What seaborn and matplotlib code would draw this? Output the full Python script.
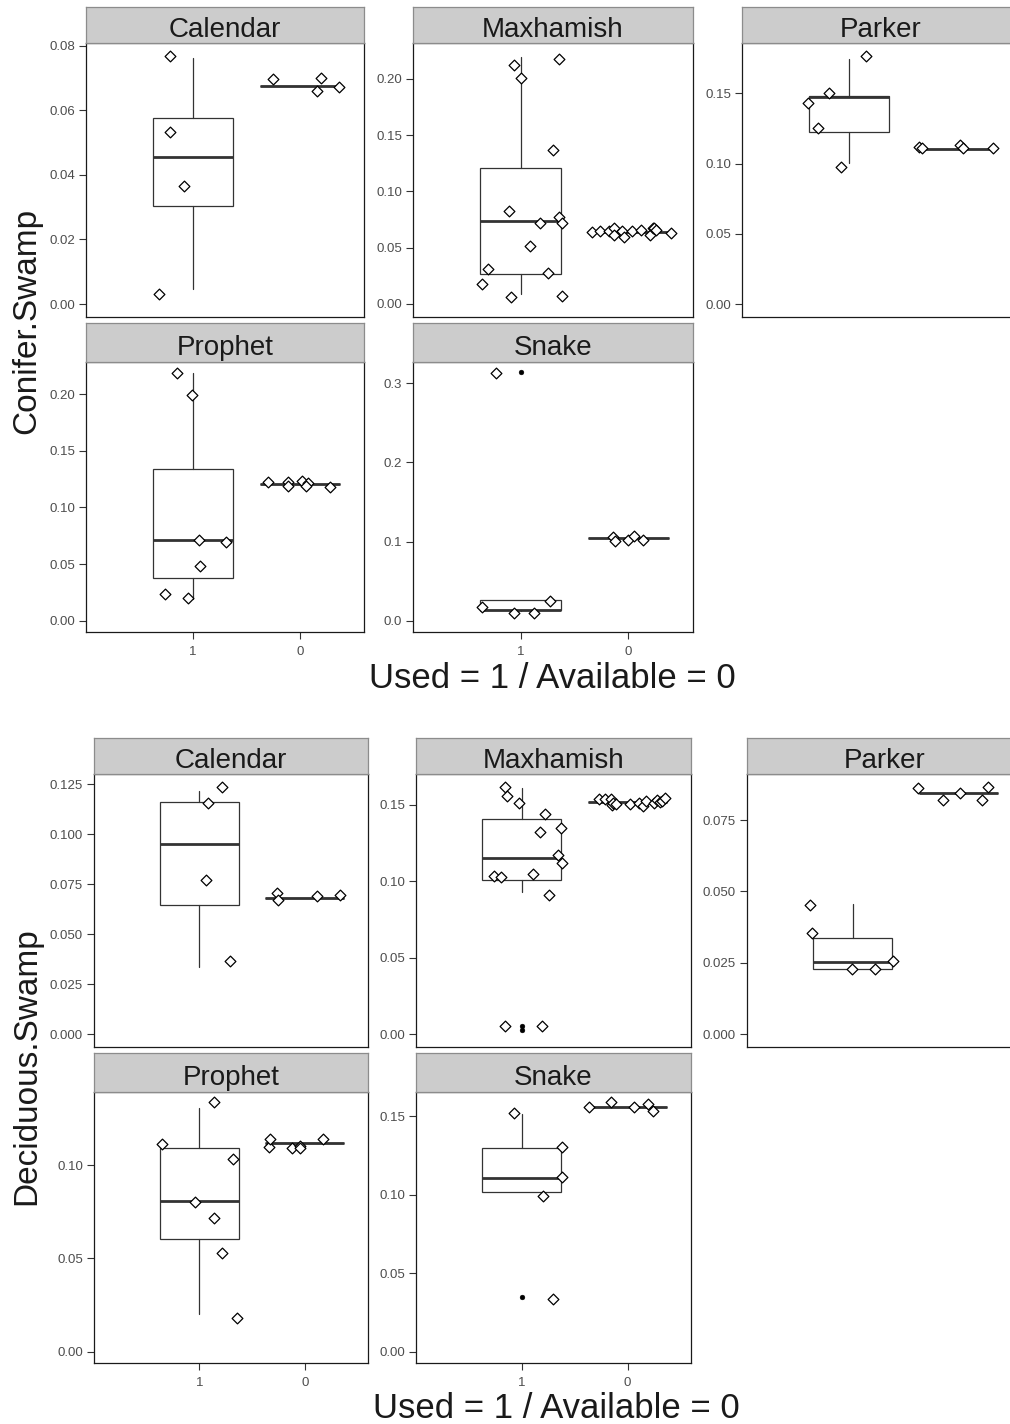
import matplotlib
matplotlib.use("Agg")
import matplotlib.pyplot as plt
from matplotlib.ticker import MultipleLocator, FormatStrFormatter
import pandas as pd
import seaborn as sns

# ---------------------------------------------------------------- data
sites = ["Calendar", "Maxhamish", "Parker", "Prophet", "Snake"]
group_labels = ["1", "0"]          # Used = 1, Available = 0
x_title = "Used = 1 / Available = 0"

# Conifer.Swamp, used locations (value and horizontal jitter)
conifer_used = {
    "Calendar": [0.0768, 0.0532, 0.0365, 0.0030],
    "Maxhamish": [0.2124, 0.2006, 0.2175, 0.1369, 0.0827, 0.0717, 0.0776,
                  0.0723, 0.0516, 0.0308, 0.0279, 0.0178, 0.0065, 0.0074],
    "Parker": [0.1434, 0.1256, 0.1505, 0.0974, 0.1766],
    "Prophet": [0.2183, 0.1992, 0.0712, 0.0697, 0.0483, 0.0236, 0.0198],
    "Snake": [0.3128, 0.0177, 0.0101, 0.0101, 0.0249],
}
conifer_used_jitter = {
    "Calendar": [-0.21, -0.21, -0.08, -0.32],
    "Maxhamish": [-0.06, 0.00, 0.36, 0.30, -0.11, 0.18, 0.36,
                  0.38, 0.09, -0.30, 0.25, -0.36, -0.09, 0.38],
    "Parker": [-0.385, -0.29, -0.19, -0.07, 0.16],
    "Prophet": [-0.15, -0.01, 0.06, 0.31, 0.07, -0.26, -0.05],
    "Snake": [-0.23, -0.36, -0.06, 0.12, 0.27],
}
# Conifer.Swamp, available locations
conifer_avail = {
    "Calendar": [0.0696, 0.0700, 0.0659, 0.0673],
    "Maxhamish": [0.0637, 0.0652, 0.0652, 0.0673, 0.0613, 0.0652, 0.0598,
                  0.0652, 0.0658, 0.0613, 0.0673, 0.0679, 0.0658, 0.0634],
    "Parker": [0.1120, 0.1113, 0.1132, 0.1109, 0.1113],
    "Prophet": [0.1227, 0.1227, 0.1189, 0.1233, 0.1218, 0.1189, 0.1177],
    "Snake": [0.1062, 0.1011, 0.1020, 0.1071, 0.1020],
}
conifer_avail_jitter = {
    "Calendar": [-0.25, 0.20, 0.16, 0.37],
    "Maxhamish": [-0.34, -0.26, -0.18, -0.13, -0.13, -0.06, -0.04,
                  0.03, 0.12, 0.20, 0.23, 0.24, 0.26, 0.40],
    "Parker": [-0.34, -0.32, 0.04, 0.07, 0.35],
    "Prophet": [-0.30, -0.115, -0.115, 0.016, 0.078, 0.062, 0.28],
    "Snake": [-0.14, -0.12, 0.00, 0.056, 0.136],
}
# box summaries of used locations: lower whisker, q1, median, q3, upper whisker
conifer_box_used = {
    "Calendar": [0.0046, 0.0303, 0.0456, 0.0575, 0.0761],
    "Maxhamish": [0.0089, 0.0264, 0.0738, 0.1212, 0.2198],
    "Parker": [0.1006, 0.1227, 0.1473, 0.1480, 0.1743],
    "Prophet": [0.0189, 0.0374, 0.0712, 0.1336, 0.2189],
    "Snake": [0.0120, 0.0135, 0.0138, 0.0262, 0.0262],
}
conifer_median_avail = {"Calendar": 0.0676, "Maxhamish": 0.0637, "Parker": 0.1104,
                        "Prophet": 0.1207, "Snake": 0.1041}
conifer_outliers = {"Snake": [0.3148]}

# Deciduous.Swamp, used locations
deciduous_used = {
    "Calendar": [0.1235, 0.1155, 0.0770, 0.0367],
    "Maxhamish": [0.1620, 0.1561, 0.1515, 0.1439, 0.1321, 0.1351, 0.1172,
                  0.1122, 0.1035, 0.1026, 0.1046, 0.0910, 0.0052, 0.0052],
    "Parker": [0.0453, 0.0356, 0.0228, 0.0228, 0.0258],
    "Prophet": [0.1111, 0.1336, 0.1031, 0.0803, 0.0718, 0.0530, 0.0179],
    "Snake": [0.1520, 0.1304, 0.1113, 0.0990, 0.0333],
}
deciduous_used_jitter = {
    "Calendar": [0.21, 0.08, 0.06, 0.29],
    "Maxhamish": [-0.16, -0.14, -0.03, 0.22, 0.17, 0.37, 0.34,
                  0.38, -0.26, -0.20, 0.11, 0.26, -0.16, 0.19],
    "Parker": [-0.40, -0.39, -0.01, 0.21, 0.38],
    "Prophet": [-0.35, 0.14, 0.32, -0.04, 0.14, 0.21, 0.36],
    "Snake": [-0.07, 0.38, 0.38, 0.20, 0.30],
}
# Deciduous.Swamp, available locations
deciduous_avail = {
    "Calendar": [0.0706, 0.0673, 0.0691, 0.0698],
    "Maxhamish": [0.1537, 0.1537, 0.1537, 0.1500, 0.1515, 0.1506, 0.1506, 0.1511,
                  0.1493, 0.1528, 0.1515, 0.1532, 0.1521, 0.1528, 0.1544],
    "Parker": [0.0861, 0.0820, 0.0846, 0.0820, 0.0867],
    "Prophet": [0.1098, 0.1139, 0.1093, 0.1103, 0.1093, 0.1139],
    "Snake": [0.1559, 0.1587, 0.1559, 0.1574, 0.1531],
}
deciduous_avail_jitter = {
    "Calendar": [-0.26, -0.25, 0.12, 0.33],
    "Maxhamish": [-0.27, -0.21, -0.16, -0.15, -0.14, -0.11, 0.02, 0.11,
                  0.15, 0.17, 0.25, 0.28, 0.31, 0.33, 0.35],
    "Parker": [-0.38, -0.15, 0.01, 0.22, 0.28],
    "Prophet": [-0.34, -0.33, -0.125, -0.045, -0.045, 0.17],
    "Snake": [-0.36, -0.16, 0.065, 0.19, 0.24],
}
deciduous_box_used = {
    "Calendar": [0.0337, 0.0648, 0.0949, 0.1160, 0.1213],
    "Maxhamish": [0.0932, 0.1009, 0.1155, 0.1406, 0.1613],
    "Parker": [0.0229, 0.0229, 0.0254, 0.0338, 0.0456],
    "Prophet": [0.0202, 0.0604, 0.0809, 0.1089, 0.1304],
    "Snake": [0.1014, 0.1014, 0.1107, 0.1294, 0.1510],
}
deciduous_median_avail = {"Calendar": 0.0681, "Maxhamish": 0.1521, "Parker": 0.0846,
                          "Prophet": 0.1116, "Snake": 0.1559}
deciduous_outliers = {"Maxhamish": [0.0052, 0.0026], "Snake": [0.0350]}

# ---------------------------------------------------------------- axes settings
conifer_ylim = {"Calendar": (-0.0039, 0.0807), "Maxhamish": (-0.0113, 0.2317),
                "Parker": (-0.0090, 0.1856), "Prophet": (-0.0102, 0.2285),
                "Snake": (-0.0147, 0.3273)}
conifer_ticks = {"Calendar": (0.02, "%.2f"), "Maxhamish": (0.05, "%.2f"),
                 "Parker": (0.05, "%.2f"), "Prophet": (0.05, "%.2f"),
                 "Snake": (0.1, "%.1f")}
deciduous_ylim = {"Calendar": (-0.0062, 0.1300), "Maxhamish": (-0.0083, 0.1703),
                  "Parker": (-0.0043, 0.0911), "Prophet": (-0.0059, 0.1393),
                  "Snake": (-0.0070, 0.1655)}
deciduous_ticks = {"Calendar": (0.025, "%.3f"), "Maxhamish": (0.05, "%.2f"),
                   "Parker": (0.025, "%.3f"), "Prophet": (0.05, "%.2f"),
                   "Snake": (0.05, "%.2f")}

# ---------------------------------------------------------------- style
sns.set_theme(style="white")
plt.rcParams["font.family"] = ["Liberation Sans", "DejaVu Sans"]

W, H = 1010, 1424
fig = plt.figure(figsize=(W / 100, H / 100), dpi=100)
fig.patch.set_facecolor("white")

LINE = "#333333"
TICK_TXT = "#4D4D4D"

panel_slot = {"Calendar": (0, 0), "Maxhamish": (0, 1), "Parker": (0, 2),
              "Prophet": (1, 0), "Snake": (1, 1)}


def px_axes(x0, y0, x1, y1):
    return fig.add_axes([x0 / W, 1 - y1 / H, (x1 - x0) / W, (y1 - y0) / H])


def draw_panel(ax, site, used, used_jit, avail, avail_jit, box_used, med_avail,
               outliers, ylim, ticks, show_x):
    lo, q1, med, q3, hi = box_used[site]
    ma = med_avail[site]
    stats = [dict(whislo=lo, q1=q1, med=med, q3=q3, whishi=hi, fliers=[]),
             dict(whislo=ma, q1=ma, med=ma, q3=ma, whishi=ma, fliers=[])]
    ax.bxp(stats, positions=[0, 1], widths=0.75, showfliers=False, showcaps=False,
           patch_artist=True,
           boxprops=dict(facecolor="white", edgecolor=LINE, linewidth=0.9),
           whiskerprops=dict(color=LINE, linewidth=0.9),
           medianprops=dict(color=LINE, linewidth=2.0, solid_capstyle="butt"),
           zorder=2)

    rows = []
    for v, j in zip(used[site], used_jit[site]):
        rows.append({"x": 0 + j, "value": v})
    for v, j in zip(avail[site], avail_jit[site]):
        rows.append({"x": 1 + j, "value": v})
    pts = pd.DataFrame(rows)
    if site in outliers:
        out = pd.DataFrame({"x": [0.0] * len(outliers[site]), "value": outliers[site]})
        sns.scatterplot(data=out, x="x", y="value", ax=ax, marker="o", s=12,
                        color="black", edgecolor="black", linewidth=0.3, zorder=3,
                        legend=False)
    sns.scatterplot(data=pts, x="x", y="value", ax=ax, marker="D", s=30,
                    color="white", edgecolor="black", linewidth=0.9, zorder=4,
                    legend=False)

    ax.set_xlim(-1.0, 1.6)
    ax.set_ylim(*ylim[site])
    step, fmt = ticks[site]
    ax.yaxis.set_major_locator(MultipleLocator(step))
    ax.yaxis.set_major_formatter(FormatStrFormatter(fmt))
    ax.set_xticks([0, 1])
    ax.set_xticklabels(group_labels)
    ax.set_xlabel("")
    ax.set_ylabel("")
    ax.tick_params(axis="y", left=True, length=5, width=0.8, color=LINE, pad=3,
                   labelsize=9.5, labelcolor=TICK_TXT)
    ax.tick_params(axis="x", bottom=show_x, labelbottom=show_x, length=5, width=0.8,
                   color=LINE, pad=5, labelsize=9.5, labelcolor=TICK_TXT)
    for sp in ax.spines.values():
        sp.set_visible(True)
        sp.set_color("#1A1A1A")
        sp.set_linewidth(0.9)
    ax.set_facecolor("white")


def draw_strip(x0, x1, y0, y1, label):
    sax = px_axes(x0, y0, x1, y1)
    sax.set_facecolor("#CCCCCC")
    sax.set_xticks([])
    sax.set_yticks([])
    for sp in sax.spines.values():
        sp.set_color("#8C8C8C")
        sp.set_linewidth(0.9)
    sax.text(0.5, 0.18, label, transform=sax.transAxes, ha="center", va="baseline",
             fontsize=20, color="#1A1A1A")


grids = [
    dict(cols=[(86, 364), (413, 693), (742, 1020)],
         rows=[((7, 43.3), (43.3, 316.7)), ((323, 361.7), (361.7, 632.3))],
         used=conifer_used, used_jit=conifer_used_jitter,
         avail=conifer_avail, avail_jit=conifer_avail_jitter,
         box=conifer_box_used, med=conifer_median_avail, out=conifer_outliers,
         ylim=conifer_ylim, ticks=conifer_ticks,
         ytitle="Conifer.Swamp", ytitle_pos=(27, 321), xtitle_pos=(552, 678)),
    dict(cols=[(94, 368), (416, 691), (747, 1022)],
         rows=[((738, 774), (774, 1046.7)), ((1053, 1091.7), (1091.7, 1362.7))],
         used=deciduous_used, used_jit=deciduous_used_jitter,
         avail=deciduous_avail, avail_jit=deciduous_avail_jitter,
         box=deciduous_box_used, med=deciduous_median_avail, out=deciduous_outliers,
         ylim=deciduous_ylim, ticks=deciduous_ticks,
         ytitle="Deciduous.Swamp", ytitle_pos=(27, 1066), xtitle_pos=(556, 1408)),
]

for g in grids:
    for site in sites:
        r, c = panel_slot[site]
        x0, x1 = g["cols"][c]
        (sy0, sy1), (py0, py1) = g["rows"][r]
        ax = px_axes(x0, py0, x1, py1)
        draw_panel(ax, site, g["used"], g["used_jit"], g["avail"], g["avail_jit"],
                   g["box"], g["med"], g["out"], g["ylim"], g["ticks"],
                   show_x=(r == 1))
        draw_strip(x0, x1, sy0, sy1, site)
    tx, ty = g["ytitle_pos"]
    fig.text(tx / W, 1 - ty / H, g["ytitle"], rotation=90, ha="center", va="center",
             fontsize=24, color="#1A1A1A")
    xx, xy = g["xtitle_pos"]
    fig.text(xx / W, 1 - xy / H, x_title, ha="center", va="center",
             fontsize=25, color="#1A1A1A")

fig.savefig("out.png", dpi=100, facecolor="white")
